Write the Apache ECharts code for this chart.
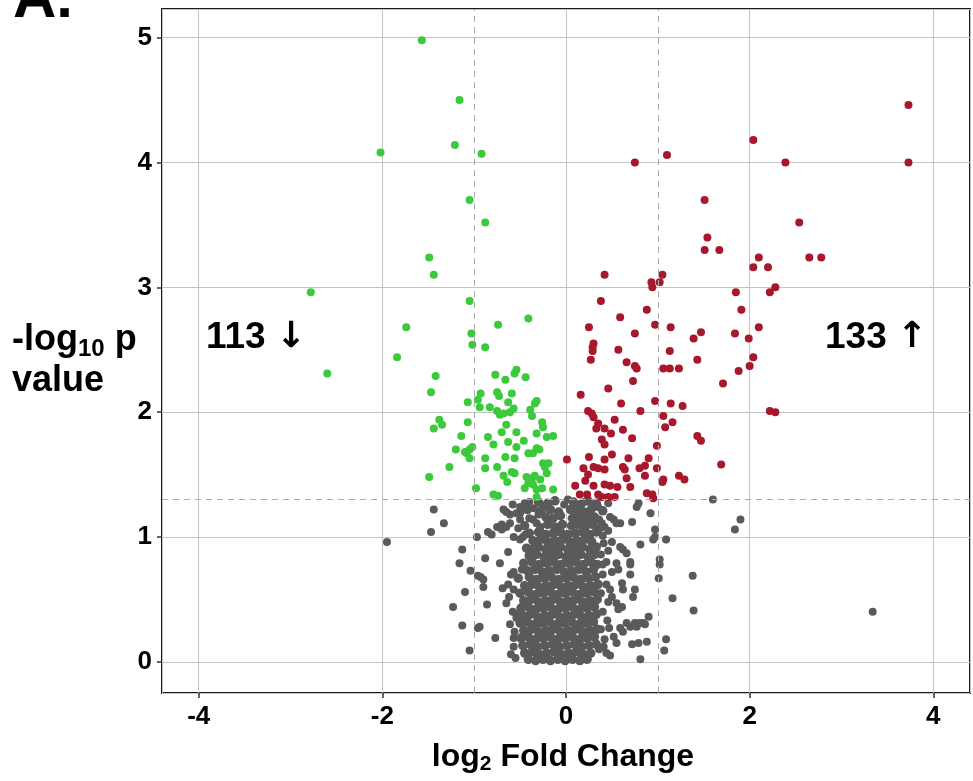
<!DOCTYPE html>
<html>
<head>
<meta charset="utf-8">
<script src="https://cdn.jsdelivr.net/npm/echarts@6/dist/echarts.min.js"></script>
<style>
  html, body { margin: 0; padding: 0; background: #fff; }
  #chart { width: 973px; height: 781px; }
</style>
</head>
<body>
<div id="chart"></div>
<script>
// log2 fold change / -log10 p

// significant, down (113)
const downPoints = [
  [-1.57, 4.98], [-1.16, 4.50], [-1.21, 4.14], [-2.02, 4.08], [-0.92, 4.07], [-1.05, 3.70], [-0.88, 3.52],
  [-1.49, 3.24], [-1.44, 3.10], [-2.78, 2.96], [-1.74, 2.68], [-1.84, 2.44], [-2.60, 2.31], [-1.05, 2.89],
  [-1.03, 2.63], [-1.02, 2.54], [-0.88, 2.52], [-0.41, 2.75], [-0.74, 2.70], [-1.42, 2.29], [-1.47, 2.16],
  [-1.07, 2.08], [-0.96, 2.10], [-1.38, 1.94], [-1.35, 1.90], [-1.44, 1.87], [-1.07, 1.92], [-1.14, 1.81],
  [-1.20, 1.70], [-1.10, 1.68], [-1.05, 1.70], [-1.02, 1.72], [-1.05, 1.63], [-1.27, 1.56], [-1.49, 1.48],
  [-0.98, 1.39], [-0.54, 2.34], [-0.56, 2.31], [-0.77, 2.30], [-0.66, 2.26], [-0.44, 2.28], [-0.93, 2.15],
  [-0.75, 2.16], [-0.73, 2.13], [-0.59, 2.15], [-0.63, 2.08], [-0.32, 2.09], [-0.34, 2.07], [-0.94, 2.04],
  [-0.83, 2.04], [-0.75, 2.01], [-0.72, 1.98], [-0.68, 1.99], [-0.61, 2.00], [-0.57, 2.03], [-0.39, 2.02],
  [-0.37, 1.97], [-0.65, 1.90], [-0.26, 1.92], [-0.25, 1.88], [-0.70, 1.84], [-0.54, 1.84], [-0.32, 1.83],
  [-0.85, 1.80], [-0.21, 1.80], [-0.14, 1.81], [-0.46, 1.77], [-0.79, 1.74], [-0.63, 1.76], [-1.08, 1.67],
  [-0.32, 1.71], [-0.41, 1.67], [-0.36, 1.67], [-0.29, 1.70], [-0.54, 1.72], [-0.88, 1.63], [-0.66, 1.64],
  [-0.56, 1.63], [-0.25, 1.59], [-0.23, 1.56], [-0.19, 1.59], [-0.88, 1.55], [-0.75, 1.56], [-0.59, 1.52],
  [-0.56, 1.51], [-0.68, 1.49], [-0.43, 1.48], [-0.37, 1.47], [-0.34, 1.49], [-0.28, 1.46], [-0.21, 1.51],
  [-0.64, 1.44], [-0.41, 1.43], [-0.36, 1.42], [-0.26, 1.39], [-0.32, 1.38], [-0.14, 1.38], [-0.79, 1.34],
  [-0.74, 1.33], [-0.32, 1.32], [-0.45, 1.39]
];

// significant, up (133)
const upPoints = [
  [0.75, 4.00], [1.10, 4.06], [1.51, 3.70], [1.54, 3.40], [1.51, 3.30], [1.67, 3.30], [3.73, 4.46],
  [3.73, 4.00], [2.04, 4.18], [2.39, 4.00], [2.54, 3.52], [2.10, 3.24], [2.65, 3.24], [2.78, 3.24],
  [1.05, 3.10], [2.04, 3.16], [2.20, 3.16], [1.85, 2.96], [2.28, 3.00], [2.22, 2.96], [1.91, 2.82],
  [1.14, 2.68], [1.39, 2.59], [1.47, 2.64], [1.84, 2.63], [1.99, 2.59], [2.10, 2.68], [1.13, 2.49],
  [1.43, 2.42], [2.04, 2.44], [2.00, 2.37], [1.88, 2.33], [1.06, 2.35], [1.13, 2.35], [1.23, 2.35],
  [1.71, 2.23], [1.14, 2.07], [1.27, 2.05], [2.22, 2.01], [2.28, 2.00], [1.06, 1.97], [1.08, 1.88],
  [1.16, 1.92], [1.43, 1.81], [1.47, 1.77], [1.69, 1.58], [1.06, 1.46], [1.23, 1.49], [1.29, 1.46],
  [0.42, 3.10], [0.93, 3.04], [1.02, 3.04], [0.94, 3.00], [0.38, 2.89], [0.88, 2.82], [0.59, 2.76],
  [0.25, 2.68], [0.97, 2.70], [0.75, 2.63], [0.30, 2.55], [0.29, 2.49], [0.57, 2.50], [0.27, 2.42],
  [0.66, 2.40], [0.75, 2.37], [0.77, 2.35], [0.73, 2.25], [0.46, 2.19], [0.16, 2.14], [0.97, 2.09],
  [0.60, 2.07], [0.24, 2.01], [0.28, 1.99], [0.30, 1.96], [0.81, 2.01], [0.53, 1.94], [0.35, 1.91],
  [0.33, 1.87], [0.42, 1.87], [0.49, 1.83], [0.62, 1.86], [0.72, 1.79], [0.39, 1.78], [0.42, 1.74],
  [0.99, 1.73], [0.01, 1.62], [0.25, 1.64], [0.50, 1.66], [0.68, 1.63], [0.42, 1.62], [0.90, 1.63],
  [0.19, 1.55], [0.30, 1.56], [0.35, 1.55], [0.42, 1.54], [0.62, 1.56], [0.64, 1.54], [0.80, 1.55],
  [0.86, 1.57], [0.99, 1.55], [0.24, 1.50], [0.86, 1.49], [1.05, 1.44], [0.10, 1.41], [0.21, 1.45],
  [0.30, 1.41], [0.42, 1.42], [0.48, 1.41], [0.56, 1.40], [0.70, 1.40], [0.15, 1.34], [0.23, 1.34],
  [0.35, 1.34], [0.39, 1.32], [0.46, 1.32], [0.53, 1.32], [0.94, 1.34], [0.95, 1.31], [0.29, 2.52],
  [0.66, 1.47], [0.88, 1.35]
];

// not significant: scattered ones
const nsOuter = [
  [-1.95, 0.96], [-1.44, 1.22], [-1.33, 1.11], [-1.47, 1.04], [-1.13, 0.90], [-1.16, 0.79], [-1.04, 0.73],
  [-1.10, 0.56], [-1.23, 0.44], [-1.13, 0.29], [-1.05, 0.09], [-0.96, 0.69], [-0.96, 0.27], [-0.97, 1.00],
  [1.60, 1.30], [1.90, 1.14], [1.84, 1.06], [1.38, 0.69], [1.39, 0.41], [3.34, 0.40],
  [-0.93, 0.68], [-0.90, 0.66], [-0.94, 0.28], [-0.86, 0.46], [-0.77, 0.19], [-0.69, 0.59], [-0.72, 0.79],
  [-0.65, 0.47], [-0.57, 0.12], [-0.88, 0.83], [-0.85, 1.04], [-0.81, 1.02], [-0.63, 0.88], [-0.61, 1.18],
  [-0.65, 1.20], [-0.54, 1.19], [-0.50, 1.14], [-0.75, 1.08], [-0.70, 1.10], [-0.90, 0.60], [-0.54, 0.38],
  [-0.54, 0.35], [-0.57, 0.19], [-0.57, 0.72], [-0.57, 0.58], [-0.48, 0.74], [-0.70, 1.06], [-0.65, 1.08],
  [-0.61, 1.11], [-0.68, 1.22], [-0.50, 1.24], [-0.45, 1.27], [-0.50, 1.19], [-0.36, 1.14], [-0.32, 1.11],
  [-0.28, 1.08], [-0.26, 1.03], [-0.57, 1.00], [-0.50, 0.98], [-0.47, 1.00], [-0.39, 0.90], [-0.36, 0.91],
  [-0.60, 0.70], [-0.62, 0.52], [-0.58, 0.40], [-0.61, 0.30], [-0.56, 0.24], [-0.60, 0.06], [-0.55, 0.03],
  [-0.63, 0.62], [-0.40, 1.28], [-0.35, 1.23], [-0.24, 1.25], [-0.02, 1.26], [0.02, 1.30], [0.12, 1.25],
  [0.20, 1.28], [0.27, 1.18], [0.35, 1.24], [0.46, 1.27], [-0.58, 1.26], [-0.40, 1.15], [-0.30, 1.18],
  [0.09, 1.12], [0.18, 1.12], [0.36, 1.14], [-0.52, 1.07], [-0.44, 1.02],
  [0.72, 1.12], [0.59, 1.11], [0.52, 1.14], [0.77, 1.24], [0.79, 1.27], [0.92, 1.19], [0.97, 1.06],
  [0.95, 0.98], [1.09, 0.98], [0.81, 0.94], [1.02, 0.82], [1.02, 0.78], [1.01, 0.67], [0.70, 0.78],
  [0.70, 0.70], [0.75, 0.58], [0.73, 0.52], [0.61, 0.44], [0.90, 0.36], [0.86, 0.30], [0.80, 0.31],
  [0.77, 0.28], [0.72, 0.14], [0.79, 0.15], [0.88, 0.16], [1.09, 0.18], [1.07, 0.09], [0.81, 0.02],
  [1.16, 0.51], [0.59, 0.27], [0.62, 0.24], [0.48, 1.16], [0.55, 1.11], [0.39, 1.11], [0.42, 1.08],
  [0.97, 1.00], [0.59, 0.92], [0.62, 0.90], [0.66, 0.87], [0.70, 0.80], [0.55, 0.79], [0.57, 0.74],
  [0.61, 0.63], [0.62, 0.58], [0.55, 0.47], [0.57, 0.42], [0.48, 0.58], [0.50, 0.52], [0.66, 0.31],
  [0.70, 0.28], [0.75, 0.31], [0.84, 0.31], [0.52, 0.20], [0.55, 0.15], [0.41, 0.12], [0.44, 0.07],
  [0.40, 0.70], [0.44, 0.62], [0.38, 0.55], [0.46, 0.48], [0.40, 0.40], [0.45, 0.33], [0.38, 0.26],
  [0.42, 0.18], [0.47, 0.27], [0.36, 0.10], [0.48, 0.05], [0.44, 0.80], [0.38, 0.86], [0.41, 0.95],
  [0.40, 1.01], [0.46, 1.05], [0.50, 0.96], [0.46, 0.89], [0.40, 0.78], [0.50, 0.72]
];

// not significant: the dense core round zero
const nsCore = [
  [-0.30, 1.28], [-0.20, 1.27], [-0.12, 1.29], [0.08, 1.28], [0.16, 1.26], [0.24, 1.29], [0.33, 1.27],
  [-0.42, 1.22], [-0.27, 1.21], [-0.17, 1.22], [-0.08, 1.20], [0.05, 1.22], [0.12, 1.21], [0.20, 1.20], [0.28, 1.23], [0.40, 1.21],
  [-0.22, 1.16], [-0.14, 1.15], [-0.06, 1.17], [0.07, 1.15], [0.15, 1.16], [0.23, 1.14], [0.31, 1.16],
  [-0.45, 1.09], [-0.20, 1.10], [-0.12, 1.08], [-0.04, 1.10], [0.06, 1.09], [0.13, 1.10], [0.21, 1.08], [0.29, 1.10], [0.36, 1.07],
  [-0.40, 1.03], [-0.30, 1.04], [-0.22, 1.02], [-0.14, 1.03], [-0.06, 1.04], [0.02, 1.02], [0.10, 1.03], [0.18, 1.04], [0.26, 1.02], [0.33, 1.04],
  [-0.36, 0.97], [-0.28, 0.98], [-0.20, 0.96], [-0.12, 0.97], [-0.04, 0.98], [0.04, 0.96], [0.12, 0.97], [0.20, 0.98], [0.28, 0.96],
  [-0.43, 0.91], [-0.30, 0.92], [-0.22, 0.90], [-0.14, 0.91], [-0.06, 0.92], [0.02, 0.90], [0.10, 0.91], [0.18, 0.92], [0.26, 0.90], [0.33, 0.92],
  [-0.40, 0.85], [-0.32, 0.86], [-0.24, 0.84], [-0.16, 0.85], [-0.08, 0.86], [0.00, 0.84], [0.08, 0.85], [0.16, 0.86], [0.24, 0.84], [0.31, 0.86],
  [-0.46, 0.79], [-0.37, 0.80], [-0.29, 0.78], [-0.21, 0.79], [-0.13, 0.80], [-0.05, 0.78], [0.03, 0.79], [0.11, 0.80], [0.19, 0.78], [0.27, 0.80], [0.34, 0.78],
  [-0.42, 0.73], [-0.34, 0.74], [-0.26, 0.72], [-0.18, 0.73], [-0.10, 0.74], [-0.02, 0.72], [0.06, 0.73], [0.14, 0.74], [0.22, 0.72], [0.30, 0.74],
  [-0.52, 0.67], [-0.40, 0.68], [-0.32, 0.66], [-0.24, 0.67], [-0.16, 0.68], [-0.08, 0.66], [0.00, 0.67], [0.08, 0.68], [0.16, 0.66], [0.24, 0.67], [0.32, 0.68],
  [-0.45, 0.61], [-0.37, 0.62], [-0.29, 0.60], [-0.21, 0.61], [-0.13, 0.62], [-0.05, 0.60], [0.03, 0.61], [0.11, 0.62], [0.19, 0.60], [0.27, 0.61], [0.35, 0.62],
  [-0.50, 0.55], [-0.41, 0.56], [-0.33, 0.54], [-0.25, 0.55], [-0.17, 0.56], [-0.09, 0.54], [-0.01, 0.55], [0.07, 0.56], [0.15, 0.54], [0.23, 0.55], [0.31, 0.56],
  [-0.46, 0.49], [-0.38, 0.50], [-0.30, 0.48], [-0.22, 0.49], [-0.14, 0.50], [-0.06, 0.48], [0.02, 0.49], [0.10, 0.50], [0.18, 0.48], [0.26, 0.49], [0.34, 0.50],
  [-0.49, 0.43], [-0.41, 0.44], [-0.33, 0.42], [-0.25, 0.43], [-0.17, 0.44], [-0.09, 0.42], [-0.01, 0.43], [0.07, 0.44], [0.15, 0.42], [0.23, 0.43], [0.31, 0.44],
  [-0.47, 0.37], [-0.39, 0.38], [-0.31, 0.36], [-0.23, 0.37], [-0.15, 0.38], [-0.07, 0.36], [0.01, 0.37], [0.09, 0.38], [0.17, 0.36], [0.25, 0.37], [0.33, 0.38],
  [-0.50, 0.31], [-0.42, 0.32], [-0.34, 0.30], [-0.26, 0.31], [-0.18, 0.32], [-0.10, 0.30], [-0.02, 0.31], [0.06, 0.32], [0.14, 0.30], [0.22, 0.31], [0.30, 0.32],
  [-0.46, 0.25], [-0.38, 0.26], [-0.30, 0.24], [-0.22, 0.25], [-0.14, 0.26], [-0.06, 0.24], [0.02, 0.25], [0.10, 0.26], [0.18, 0.24], [0.26, 0.25], [0.34, 0.26],
  [-0.49, 0.19], [-0.41, 0.20], [-0.33, 0.18], [-0.25, 0.19], [-0.17, 0.20], [-0.09, 0.18], [-0.01, 0.19], [0.07, 0.20], [0.15, 0.18], [0.23, 0.19], [0.31, 0.20],
  [-0.47, 0.13], [-0.39, 0.14], [-0.31, 0.12], [-0.23, 0.13], [-0.15, 0.14], [-0.07, 0.12], [0.01, 0.13], [0.09, 0.14], [0.17, 0.12], [0.25, 0.13], [0.33, 0.14],
  [-0.45, 0.07], [-0.37, 0.08], [-0.29, 0.06], [-0.21, 0.07], [-0.13, 0.08], [-0.05, 0.06], [0.03, 0.07], [0.11, 0.08], [0.19, 0.06], [0.27, 0.07],
  [-0.41, 0.02], [-0.33, 0.01], [-0.25, 0.02], [-0.17, 0.01], [-0.09, 0.02], [-0.01, 0.01], [0.07, 0.02], [0.15, 0.01], [0.23, 0.02]
];

const foldCutoffs = [-1, 1];
const pCutoff = 1.301; // -log10(0.05)
const counts = { down: 113, up: 133 };

const labelFont = 'Arial, "Liberation Sans", sans-serif';
const arrowFont = '"DejaVu Sans", sans-serif';

const chart = echarts.init(document.getElementById('chart'), null, { renderer: 'canvas' });

const dot = (data, color, name, size) => ({
  name,
  type: 'scatter',
  data,
  symbol: 'circle',
  symbolSize: size,
  z: 3,
  itemStyle: { color, opacity: 1 },
  emphasis: { disabled: true }
});

const tickLabel = {
  showMinLabel: false, showMaxLabel: false,
  fontSize: 26, fontWeight: 'bold', color: '#000', fontFamily: labelFont
};

const countStyle = {
  big: { fontSize: 37, fontWeight: 'bold', fontFamily: labelFont, fill: '#000' },
  arr: { fontSize: 36, fontWeight: 'bold', fontFamily: arrowFont, fill: '#000' }
};

const option = {
  backgroundColor: '#fff',
  animation: false,
  grid: {
    left: 162, right: 3, top: 9, bottom: 88,
    show: true,
    borderColor: '#1a1a1a',
    borderWidth: 2,
    backgroundColor: 'transparent'
  },
  xAxis: {
    type: 'value',
    min: -4.4,
    max: 4.4,
    splitNumber: 4,
    axisLine: { show: false, onZero: false },
    axisTick: { show: true, length: 5, lineStyle: { color: '#333', width: 1.5 } },
    axisLabel: { ...tickLabel, margin: 11 },
    splitLine: { show: true, lineStyle: { color: '#c4c4c4', width: 1 } }
  },
  yAxis: {
    type: 'value',
    min: -0.25,
    max: 5.23,
    splitNumber: 5,
    axisLine: { show: false, onZero: false },
    axisTick: { show: true, length: 5, lineStyle: { color: '#333', width: 1.5 } },
    axisLabel: { ...tickLabel, margin: 10 },
    splitLine: { show: true, lineStyle: { color: '#c4c4c4', width: 1 } }
  },
  series: [
    {
      name: 'cutoffs',
      type: 'scatter',
      data: [],
      z: 1,
      markLine: {
        silent: true,
        symbol: 'none',
        label: { show: false },
        lineStyle: { type: [6, 5], color: '#ababab', width: 1 },
        data: [
          ...foldCutoffs.map(v => ({ xAxis: v })),
          { yAxis: pCutoff }
        ]
      }
    },
    dot(nsCore, '#5a5a5a', 'ns core', 9.5),
    dot(nsOuter, '#5a5a5a', 'ns', 8),
    dot(downPoints, '#3cc93c', 'down', 8),
    dot(upPoints, '#a8182c', 'up', 8)
  ],
  graphic: [
    {
      type: 'text', x: 13, y: 0,
      style: { text: 'A.', fill: '#000', verticalAlign: 'middle', font: 'bold 60px ' + labelFont }
    },
    {
      type: 'text', x: 206, y: 338,
      style: {
        text: '{big|' + counts.down + ' }{arr|\u2193}', verticalAlign: 'middle',
        rich: countStyle
      }
    },
    {
      type: 'text', x: 825, y: 338,
      style: {
        text: '{big|' + counts.up + ' }{arr|\u2191}', verticalAlign: 'middle',
        rich: countStyle
      }
    },
    {
      type: 'text', x: 12, y: 320,
      style: {
        text: '{a|-log}{s|10}{a| p}\n{a|value}',
        fill: '#000',
        rich: {
          a: { fontSize: 36, fontWeight: 'bold', fontFamily: labelFont, lineHeight: 41, fill: '#000' },
          s: { fontSize: 24, fontWeight: 'bold', fontFamily: labelFont, lineHeight: 18, verticalAlign: 'bottom', fill: '#000' }
        }
      }
    },
    {
      type: 'text', x: 563, y: 757,
      style: {
        text: '{a|log}{s|2}{a| Fold Change}',
        fill: '#000', align: 'center', verticalAlign: 'middle',
        rich: {
          a: { fontSize: 32, fontWeight: 'bold', fontFamily: labelFont, lineHeight: 36, fill: '#000' },
          s: { fontSize: 21, fontWeight: 'bold', fontFamily: labelFont, lineHeight: 16, verticalAlign: 'bottom', fill: '#000' }
        }
      }
    }
  ]
};

chart.setOption(option);
</script>
</body>
</html>
